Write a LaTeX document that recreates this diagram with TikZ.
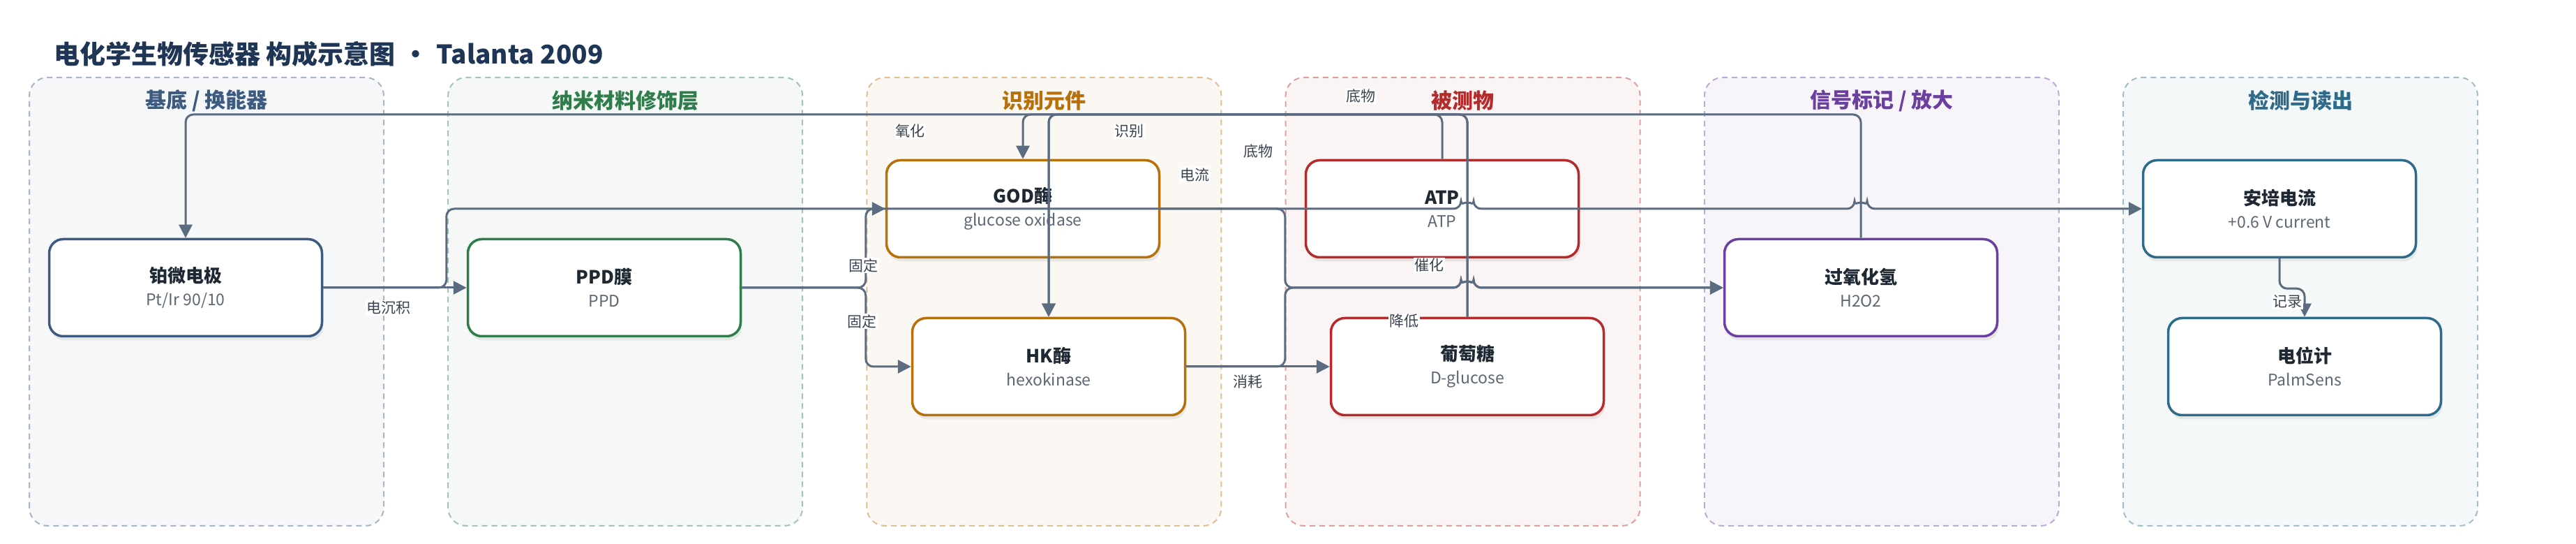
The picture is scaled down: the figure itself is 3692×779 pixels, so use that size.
\documentclass[tikz,border=0pt]{standalone}
\usepackage{fontspec}
\setmainfont{Noto Sans CJK SC}
\usepackage{tikz}
\usetikzlibrary{calc, positioning, shadows, arrows.meta}

\definecolor{ink}{HTML}{1F3556}
\definecolor{wirec}{HTML}{5B6B80}
\definecolor{nodetxt}{HTML}{1E2833}
\definecolor{subtxt}{HTML}{5D6773}
\definecolor{lbltxt}{HTML}{3A4350}
\definecolor{baseC}{HTML}{3D5A80}
\definecolor{nanoC}{HTML}{2E7D4A}
\definecolor{recoC}{HTML}{B8700A}
\definecolor{anaC}{HTML}{B52A2A}
\definecolor{sigC}{HTML}{6A3FA0}
\definecolor{readC}{HTML}{2E6A8A}

\newcommand{\subline}[1]{{\fontsize{23}{33}\selectfont\color{subtxt}#1}}

\begin{document}
\begin{tikzpicture}[x=1pt, y=1pt, >={Triangle[length=19pt,width=19pt]},
  lane/.style={draw=#1!45, fill=#1!5, dash pattern=on 8pt off 6pt, line width=2pt, rounded corners=26pt},
  lanetitle/.style={font=\fontsize{30}{34}\selectfont\bfseries, text=#1},
  box/.style={draw=#1, line width=3.5pt, rounded corners=20pt, fill=white,
    minimum width=391pt, minimum height=139pt, inner sep=0pt, align=center,
    text=nodetxt, font=\fontsize{26}{33}\selectfont,
    drop shadow={opacity=0.14, shadow xshift=2pt, shadow yshift=-6pt}},
  wire/.style={draw=wirec, line width=3pt, rounded corners=11pt},
  lbl/.style={fill=white, inner sep=1.5pt, text=lbltxt, font=\fontsize{21}{24}\selectfont}]
  \useasboundingbox (0,0) rectangle (3692,779);

  \node [anchor=west, inner sep=0pt, text=ink, font=\fontsize{37}{44}\selectfont\bfseries] (title) at (77,702)
    {电化学生物传感器 构成示意图\makebox[59pt]{·}Talanta 2009};

  % lanes
  \foreach \i/\c/\t in {0/baseC/{基底 / 换能器}, 1/nanoC/纳米材料修饰层, 2/recoC/识别元件,
      3/anaC/被测物, 4/sigC/{信号标记 / 放大}, 5/readC/检测与读出} {
    \draw [lane=\c] (42+600.2*\i,26) rectangle ++(508,642);
    \node [lanetitle=\c] (lt\i) at (296+600.2*\i,635) {\t};
  }

  % components
  \node [box=baseC] (pt) at (266,367) {\textbf{铂微电极}\\\subline{Pt/Ir 90/10}};
  \node [box=nanoC] (ppd) at (866,367) {\textbf{PPD膜}\\\subline{PPD}};
  \node [box=recoC] (god) at (1466,480) {\textbf{GOD酶}\\\subline{glucose oxidase}};
  \node [box=recoC] (hk) at (1503,254) {\textbf{HK酶}\\\subline{hexokinase}};
  \node [box=anaC] (atp) at (2067,480) {\textbf{ATP}\\\subline{ATP}};
  \node [box=anaC] (glu) at (2103,254) {\textbf{葡萄糖}\\\subline{D-glucose}};
  \node [box=sigC] (hoo) at (2667,367) {\textbf{过氧化氢}\\\subline{H2O2}};
  \node [box=readC] (amp) at (3267,480) {\textbf{安培电流}\\\subline{+0.6 V current}};
  \node [box=readC] (pot) at (3303,254) {\textbf{电位计}\\\subline{PalmSens}};

  \coordinate (busL) at ($(ppd.west)+(-29,0)$);
  \coordinate (fixB) at ($(god.west |- ppd.east)+(-28,0)$);
  \coordinate (catX) at ($(atp.west |- hoo.west)+(-28,0)$);
  \coordinate (rail) at (0,615);
  \coordinate (rec) at ($(amp.south)+(0,-43)$);

  % connectors
  \draw [wire,->] (pt.east) -- (ppd.west);
  \draw [wire,->] (pt.east) -- (busL) -- (busL |- amp.west)
    -- ($(glu.north |- amp.west)+(-9,0)$) arc [start angle=180, end angle=0, radius=9pt]
    -- ($(hoo.north |- amp.west)+(-9,0)$) arc [start angle=180, end angle=0, radius=9pt]
    -- (amp.west);
  \draw [wire,->] (ppd.east) -- (fixB) -- (fixB |- god.west) -- (god.west);
  \draw [wire,->] (ppd.east) -- (fixB) |- (hk.west);
  \draw [wire,->] (hk.east) -- (glu.west);
  \draw [wire,->] (god.east) -- (god.east -| catX) -- (catX)
    -- ($(glu.north |- hoo.west)+(-9,0)$) arc [start angle=180, end angle=0, radius=9pt] -- (hoo.west);
  \draw [wire,->] (hk.east) -- (hk.east -| catX) -- (catX)
    -- ($(glu.north |- hoo.west)+(-9,0)$) arc [start angle=180, end angle=0, radius=9pt] -- (hoo.west);
  \draw [wire,->] (hoo.north) -- (hoo.north |- rail) -- (pt.north |- rail) -- (pt.north);
  \draw [wire,->] (glu.north) -- (glu.north |- rail) -- (god.north |- rail) -- (god.north);
  \draw [wire,->] (glu.north) -- (glu.north |- rail) -- (hk.north |- rail) -- (hk.north);
  \draw [wire,->] (atp.north) -- (atp.north |- rail) -- (hk.north |- rail) -- (hk.north);
  \draw [wire,->] (amp.south) -- (rec) -| (pot.north);

  % labels
  \node [lbl] (lDep) at (557,338) {电沉积};
  \node [lbl] (lCur) at (1712,529) {电流};
  \node [lbl] (lFixA) at (1237,399) {固定};
  \node [lbl] (lFixB) at (1235,319) {固定};
  \node [lbl] (lOx) at (1304,591) {氧化};
  \node [lbl] (lRec) at (1618,591) {识别};
  \node [lbl] (lSubA) at (1803,562) {底物};
  \node [lbl] (lSubB) at (1950,641) {底物};
  \node [lbl] (lCat) at (2048,399) {催化};
  \node [lbl] (lLow) at (2012,319) {降低};
  \node [lbl] (lUse) at (1788,232) {消耗};
  \node [lbl] (lLog) at (3278,347) {记录};
\end{tikzpicture}
\end{document}
